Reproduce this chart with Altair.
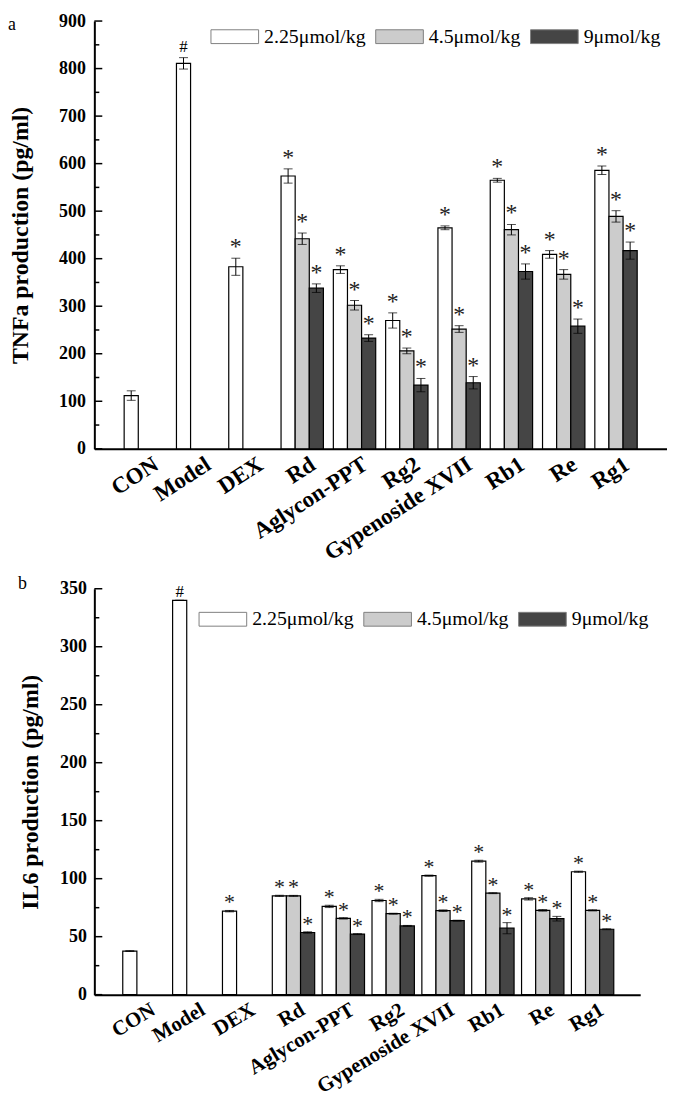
import altair as alt
import pandas as pd

FONT = "Liberation Serif"

categories = ["CON", "Model", "DEX", "Rd", "Aglycon-PPT", "Rg2",
              "Gypenoside XVII", "Rb1", "Re", "Rg1"]
doses = ["2.25μmol/kg", "4.5μmol/kg", "9μmol/kg"]
dose_colors = ["#ffffff", "#cccccc", "#454545"]

# ---- TNFa (panel a) ----
tnf_low = [112, 811, 383, 574, 377, 270, 465, 565, 409, 586]
tnf_low_err = [10, 12, 18, 15, 8, 16, 4, 4, 8, 9]
tnf_mid = [442, 302, 206, 252, 461, 367, 489]
tnf_mid_err = [12, 10, 6, 7, 11, 10, 12]
tnf_high = [338, 233, 134, 139, 373, 258, 417]
tnf_high_err = [9, 7, 14, 13, 16, 15, 18]
tnf_low_marks = ["", "#", "*", "*", "*", "*", "*", "*", "*", "*"]
tnf_ticks = [0, 100, 200, 300, 400, 500, 600, 700, 800, 900]
tnf_minor = [50, 150, 250, 350, 450, 550, 650, 750, 850]

# ---- IL6 (panel b) ----
il6_low = [37.6, 340, 72, 85.2, 76.1, 81.2, 102.6, 115.1, 82.6, 106]
il6_low_err = [0.4, 0, 0.6, 0.5, 1.0, 1.0, 0.5, 0.8, 1.0, 0.5]
il6_mid = [85.2, 65.8, 69.8, 72.4, 87.5, 72.7, 72.7]
il6_mid_err = [0.4, 0.6, 0.4, 0.7, 0.4, 0.7, 0.5]
il6_high = [53.6, 52.2, 59.3, 63.8, 57.3, 65.5, 56.4]
il6_high_err = [0.6, 0.4, 0.4, 0.4, 4.8, 2.0, 0.4]
il6_low_marks = ["", "#", "*", "*", "*", "*", "*", "*", "*", "*"]
il6_ticks = [0, 50, 100, 150, 200, 250, 300, 350]
il6_minor = [25, 75, 125, 175, 225, 275, 325]


def build_df(low, low_err, mid, mid_err, high, high_err, low_marks):
    rows = []
    for i, c in enumerate(categories):
        rows.append(dict(cat=c, dose=doses[0], v=low[i], e=low_err[i], m=low_marks[i]))
    for j, c in enumerate(categories[3:]):
        rows.append(dict(cat=c, dose=doses[1], v=mid[j], e=mid_err[j], m="*"))
        rows.append(dict(cat=c, dose=doses[2], v=high[j], e=high_err[j], m="*"))
    df = pd.DataFrame(rows)
    df["lo"] = df["v"] - df["e"]
    df["hi"] = df["v"] + df["e"]
    return df


def panel(df, ticks, minor, ymax, ytitle, letter, w, h, title_pad, label_pad,
          legend_x, legend_y, letter_x, letter_y, star_size, star_dy, hash_dy,
          label_size, label_angle):
    yscale = alt.Scale(domain=[0, ymax], nice=False, zero=True)
    yaxis = alt.Axis(title=ytitle, values=ticks, ticks=False, grid=False,
                     domainColor="black", domainWidth=2,
                     labelFont=FONT, labelFontWeight="bold", labelFontSize=18,
                     labelColor="black", labelPadding=label_pad,
                     titleFont=FONT, titleFontWeight="bold", titleFontSize=24,
                     titleColor="black", titlePadding=title_pad)
    xaxis = alt.Axis(title=None, ticks=False, domainColor="black", domainWidth=2,
                     labelAngle=label_angle, labelAlign="right", labelBaseline="top",
                     labelFont=FONT, labelFontWeight="bold", labelFontSize=label_size,
                     labelColor="black", labelPadding=4, labelOffset=5, labelLimit=400)
    x = alt.X("cat:N", sort=categories, axis=xaxis,
              scale=alt.Scale(paddingInner=0.19, paddingOuter=0.57))
    xo = alt.XOffset("dose:N", sort=doses,
                     scale=alt.Scale(domain=doses, paddingInner=0, paddingOuter=0))
    color = alt.Color(
        "dose:N", sort=doses,
        scale=alt.Scale(domain=doses, range=dose_colors),
        legend=alt.Legend(title=None, orient="none", direction="horizontal",
                          legendX=legend_x, legendY=legend_y,
                          symbolType="M-1,-0.29H1V0.29H-1Z", symbolSize=2304,
                          symbolStrokeColor="#808080", symbolStrokeWidth=1,
                          labelFont=FONT, labelFontSize=20, labelColor="black",
                          labelOffset=5, columnPadding=7, padding=0))

    base = alt.Chart(df)
    bars = base.mark_bar(stroke="black", strokeWidth=1.2).encode(
        x=x, xOffset=xo, y=alt.Y("v:Q", scale=yscale, axis=yaxis), color=color)
    err = base.mark_rule(color="black", strokeWidth=1).encode(
        x=x, xOffset=xo, y=alt.Y("lo:Q", scale=yscale, axis=yaxis), y2="hi:Q")
    cap_hi = base.mark_tick(color="black", thickness=1, size=9).encode(
        x=x, xOffset=xo, y=alt.Y("hi:Q", scale=yscale, axis=yaxis))
    cap_lo = base.mark_tick(color="black", thickness=1, size=9).encode(
        x=x, xOffset=xo, y=alt.Y("lo:Q", scale=yscale, axis=yaxis))
    stars = base.transform_filter(alt.datum.m == "*").mark_text(
        font=FONT, fontSize=star_size, baseline="alphabetic", dy=star_dy, color="#222222"
    ).encode(x=x, xOffset=xo, y=alt.Y("hi:Q", scale=yscale, axis=yaxis), text="m:N")
    hashes = base.transform_filter(alt.datum.m == "#").mark_text(
        font=FONT, fontSize=17, baseline="alphabetic", dy=hash_dy, color="black"
    ).encode(x=x, xOffset=xo, y=alt.Y("hi:Q", scale=yscale, axis=yaxis), text="m:N")

    major = alt.Chart(pd.DataFrame({"t": ticks})).mark_rule(
        color="black", strokeWidth=1.5).encode(
        x=alt.value(0), x2=alt.value(8), y=alt.Y("t:Q", scale=yscale, axis=yaxis))
    minor_r = alt.Chart(pd.DataFrame({"t": minor})).mark_rule(
        color="black", strokeWidth=1.5).encode(
        x=alt.value(0), x2=alt.value(5), y=alt.Y("t:Q", scale=yscale, axis=yaxis))
    lab = alt.Chart(pd.DataFrame({"s": [letter]})).mark_text(
        font=FONT, fontSize=18, align="left", baseline="alphabetic", color="black",
        x=letter_x, y=letter_y).encode(text="s:N")

    return alt.layer(bars, err, cap_hi, cap_lo, stars, hashes, major, minor_r, lab
                     ).properties(width=w, height=h)


df_a = build_df(tnf_low, tnf_low_err, tnf_mid, tnf_mid_err, tnf_high, tnf_high_err,
                tnf_low_marks)
df_b = build_df(il6_low, il6_low_err, il6_mid, il6_mid_err, il6_high, il6_high_err,
                il6_low_marks)

pa = panel(df_a, tnf_ticks, tnf_minor, 900, "TNFa production (pg/ml)", "a",
           577, 431, 26, 9, 117, -9, -87, 9, 24, -4, -6, 23, -33)
pb = panel(df_b, il6_ticks, il6_minor, 350, "IL6 production (pg/ml)", "b",
           550, 409, 17, 8, 105, 6, -77, 0, 22, -1, -3, 21, -31)

chart = alt.concat(pa, pb, columns=1, spacing=10, align="none", padding=0
                   ).resolve_scale(color="independent", x="independent", y="independent"
                   ).configure_view(stroke=None)

chart.save("out.html", embed_options={"renderer": "svg", "actions": False})
